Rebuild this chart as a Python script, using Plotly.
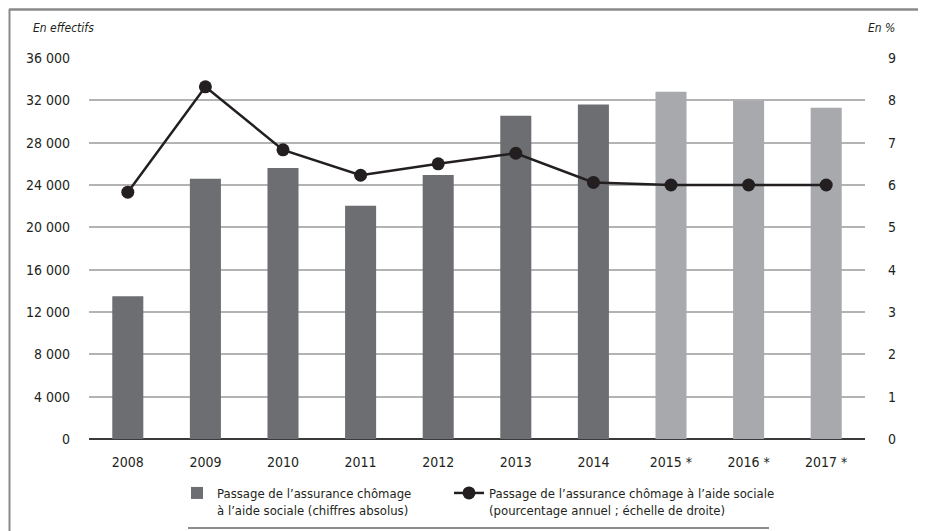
import plotly.graph_objects as go

years = ["2008", "2009", "2010", "2011", "2012", "2013", "2014", "2015 *", "2016 *", "2017 *"]
effectifs = [13500, 24600, 25600, 22050, 24950, 30550, 31600, 32800, 31950, 31300]
pourcentage = [5.83, 8.32, 6.83, 6.23, 6.50, 6.75, 6.06, 6.0, 6.0, 6.0]
observed_years = years[:7]
projected_years = years[7:]
left_tickvals = [0, 4000, 8000, 12000, 16000, 20000, 24000, 28000, 32000, 36000]
left_ticktext = ["0", "4 000", "8 000", "12 000", "16 000", "20 000", "24 000", "28 000", "32 000", "36 000"]
right_tickvals = [0, 1, 2, 3, 4, 5, 6, 7, 8, 9]

bar_name = "Passage de l’assurance chômage<br>à l’aide sociale (chiffres absolus)"
line_name = "Passage de l’assurance chômage à l’aide sociale<br>(pourcentage annuel ; échelle de droite)"

FONT = "Liberation Sans Narrow, DejaVu Sans Condensed, Roboto Condensed, Arial Narrow, sans-serif"
DARK = "#6d6e71"
LIGHT = "#a7a9ac"
INK = "#231f20"

# page body has an 8px margin: work in screen coordinates and convert
OFF = 8
W, H = 926 - OFF, 531 - OFF
PL, PR, PT, PB = 89, 865, 58, 439  # plot area in screen pixels
L = PL - OFF
R = W - (PR - OFF)
T = PT - OFF
B = H - (PB - OFF)
pw = W - L - R
ph = H - T - B

def px(sx):
    return (sx - OFF - L) / pw

def py(sy):
    return (H - B - (sy - OFF)) / ph

fig = go.Figure()
fig.add_trace(go.Bar(
    x=observed_years, y=effectifs[:7], name=bar_name,
    marker=dict(color=DARK, line=dict(width=0)), yaxis="y", showlegend=True,
    legend="legend",
))
fig.add_trace(go.Bar(
    x=projected_years, y=effectifs[7:], name="proj",
    marker=dict(color=LIGHT, line=dict(width=0)), yaxis="y", showlegend=False,
))
fig.add_trace(go.Scatter(
    x=years, y=pourcentage, name=line_name, mode="lines+markers",
    line=dict(color=INK, width=2.5),
    marker=dict(color=INK, size=13),
    yaxis="y2", legend="legend2",
))

shapes = [
    dict(type="line", xref="paper", yref="paper", x0=px(9), x1=px(926), y0=py(9.5), y1=py(9.5),
         line=dict(color="#8a8a8a", width=2.5)),
    dict(type="line", xref="paper", yref="paper", x0=px(9.5), x1=px(9.5), y0=py(9), y1=py(531),
         line=dict(color="#8a8a8a", width=2)),
    dict(type="line", xref="paper", yref="paper", x0=px(188), x1=px(769), y0=py(528), y1=py(528),
         line=dict(color="#666666", width=1.5)),
]

legend_common = dict(
    orientation="h", yanchor="top", valign="top",
    font=dict(size=13, color=INK), bgcolor="rgba(0,0,0,0)",
    itemclick=False, tracegroupgap=0,
)

fig.update_layout(
    width=W, height=H,
    margin=dict(l=L, r=R, t=T, b=B, autoexpand=False),
    paper_bgcolor="white", plot_bgcolor="white",
    font=dict(family=FONT, size=14, color=INK),
    bargap=0.6,
    barmode="overlay",
    showlegend=True,
    legend=dict(x=px(177), xanchor="left", y=py(478), **legend_common),
    legend2=dict(x=px(449), xanchor="left", y=py(478), **legend_common),
    xaxis=dict(
        categoryorder="array", categoryarray=years, automargin=False,
        range=[-0.5, len(years) - 0.5],
        showgrid=False, ticks="", showline=False, zeroline=False,
        tickfont=dict(size=14, color=INK), ticklabelstandoff=13,
    ),
    yaxis=dict(
        range=[0, 36000], tickvals=left_tickvals, ticktext=left_ticktext, automargin=False,
        showgrid=True, gridcolor="#b3b3b3", gridwidth=1.5,
        zeroline=True, zerolinecolor="#3a3a3a", zerolinewidth=1.5,
        showline=False, ticks="", ticklabelstandoff=18,
        tickfont=dict(size=14, color=INK),
    ),
    yaxis2=dict(
        range=[0, 9], tickvals=right_tickvals, overlaying="y", side="right", automargin=False,
        showgrid=False, zeroline=False, showline=False, ticks="",
        ticklabelstandoff=22, tickfont=dict(size=14, color=INK),
    ),
    shapes=shapes,
    annotations=[
        dict(text="<i>En effectifs</i>", xref="paper", yref="paper", x=px(31), y=py(28),
             xanchor="left", yanchor="middle", showarrow=False, font=dict(size=12, color=INK)),
        dict(text="<i>En %</i>", xref="paper", yref="paper", x=px(866), y=py(28),
             xanchor="left", yanchor="middle", showarrow=False, font=dict(size=12, color=INK)),
    ],
)

fig.write_html("out.html")
